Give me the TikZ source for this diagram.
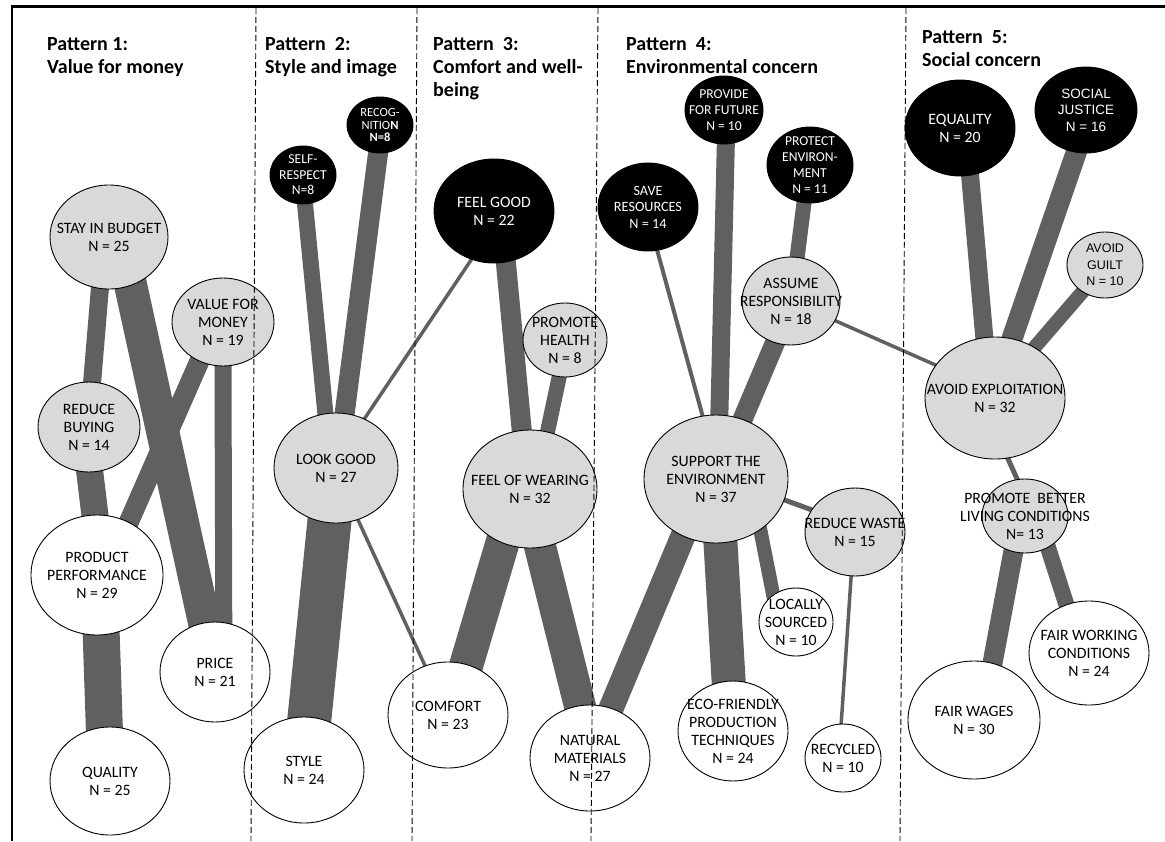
\documentclass[tikz,border=0pt]{standalone}
\usepackage{fontspec}
\setmainfont{Carlito}
\newfontfamily\arialfont{Liberation Sans}
\usetikzlibrary{shapes.geometric, backgrounds}
\definecolor{bandgrey}{HTML}{606060}
\definecolor{palegrey}{HTML}{D9D9D9}

\begin{document}
\begin{tikzpicture}[
  x=1pt, y=-1pt,
  bubble/.style={ellipse, draw=black, line width=0.9pt, inner sep=0pt},
  greybub/.style={bubble, fill=palegrey},
  whitebub/.style={bubble, fill=white},
  blackbub/.style={bubble, fill=black},
  txt/.style={font=\fontsize{15.8}{18}\selectfont, align=center, inner sep=0pt},
  wtxt/.style={txt, text=white},
  smalltxt/.style={font=\fontsize{14.2}{16.5}\selectfont},
  band/.style={draw=bandgrey, line width=#1, shorten <=-6pt, shorten >=-6pt},
  pattitle/.style={font=\fontsize{20}{23}\selectfont\bfseries, align=left, inner sep=0pt, anchor=base west},
  divider/.style={dash pattern=on 6pt off 3pt, line width=0.9pt},
]
\useasboundingbox (0,0) rectangle (1165,841);

% frame
\draw[line width=2.5pt] (11,6.5) -- (1165,6.5);
\draw[line width=1.5pt] (12,6.5) -- (12,841);

% titles (base = last line)
\node[pattitle] (t1) at (47,73) {Pattern 1:\\Value for money};
\node[pattitle] (t2) at (265,73) {Pattern~ 2:\\Style and image};
\node[pattitle] (t3) at (433,96) {Pattern~ 3:\\Comfort and well-\\being};
\node[pattitle] (t4) at (626,73) {Pattern~ 4:\\Environmental concern};
\node[pattitle] (t5) at (922,66) {Pattern~ 5:\\Social concern};

% pattern 1
\node[greybub, minimum width=118, minimum height=104, label={[txt]center:{STAY IN BUDGET\\N = 25}}] (stay) at (109,237) {};
\node[greybub, minimum width=102, minimum height=88, label={[txt]center:{VALUE FOR\\MONEY\\N = 19}}] (vfm) at (223,322) {};
\node[greybub, minimum width=102, minimum height=90, label={[txt]center:{REDUCE\\BUYING\\N = 14}}] (reduce) at (89,427) {};
\node[whitebub, minimum width=132, minimum height=120, label={[txt]center:{PRODUCT\\PERFORMANCE\\N = 29}}] (perf) at (97,575) {};
\node[whitebub, minimum width=110, minimum height=100, label={[txt]center:{PRICE\\N = 21}}] (price) at (215,672) {};
\node[whitebub, minimum width=120, minimum height=108, label={[txt]center:{QUALITY\\N = 25}}] (quality) at (110,781) {};

% pattern 2
\node[blackbub, minimum width=66, minimum height=58, label={[wtxt, font=\fontsize{13.6}{15.5}\selectfont]center:{SELF-\\RESPECT\\N=8}}] (selfresp) at (303,175) {};
\node[blackbub, minimum width=66, minimum height=56, label={[wtxt, font=\fontsize{12.5}{12.5}\selectfont]center:{RECOG-\\NITIO\textbf{N}\\\textbf{N=8}}}] (recog) at (380,125) {};
\node[greybub, minimum width=124, minimum height=110, label={[txt]center:{LOOK GOOD\\N = 27}}] (lookgood) at (336,468) {};
\node[whitebub, minimum width=120, minimum height=106, label={[txt]center:{STYLE\\N = 24}}] (style) at (304,770) {};

% pattern 3
\node[blackbub, minimum width=120, minimum height=104, label={[wtxt]center:{FEEL GOOD\\N = 22}}] (feelgood) at (494,211) {};
\node[greybub, minimum width=84, minimum height=74, label={[txt]center:{PROMOTE\\HEALTH\\N = 8}}] (health) at (565,340) {};
\node[greybub, minimum width=134, minimum height=118, label={[txt]center:{FEEL OF WEARING\\N = 32}}] (wearing) at (530,489) {};
\node[whitebub, minimum width=120, minimum height=106, label={[txt]center:{COMFORT\\N = 23}}] (comfort) at (448,715) {};
\node[whitebub, minimum width=120, minimum height=106, label={[txt]center:{NATURAL\\MATERIALS\\N = 27}}] (natural) at (590,758) {};

% pattern 4
\node[blackbub, minimum width=100, minimum height=88, label={[wtxt, smalltxt]center:{SAVE\\RESOURCES\\N = 14}}] (saveres) at (648,207) {};
\node[blackbub, minimum width=78, minimum height=68, label={[wtxt, font=\fontsize{13.6}{16}\selectfont]center:{PROVIDE\\FOR FUTURE\\N = 10}}] (future) at (724,110) {};
\node[blackbub, minimum width=86, minimum height=76, label={[wtxt, font=\fontsize{13.6}{16}\selectfont]center:{PROTECT\\ENVIRON-\\MENT\\N = 11}}] (protect) at (810,165) {};
\node[greybub, minimum width=98, minimum height=88, label={[txt]center:{ASSUME\\RESPONSIBILITY\\N = 18}}] (assume) at (791,301) {};
\node[greybub, minimum width=144, minimum height=128, label={[txt]center:{SUPPORT THE\\ENVIRONMENT\\N = 37}}] (support) at (716,479) {};
\node[greybub, minimum width=100, minimum height=88, label={[txt]center:{REDUCE WASTE\\N = 15}}] (waste) at (855,532) {};
\node[whitebub, minimum width=74, minimum height=68, label={[txt]center:{LOCALLY\\SOURCED\\N = 10}}] (local) at (796,622) {};
\node[whitebub, minimum width=110, minimum height=100, label={[txt]center:{ECO-FRIENDLY\\PRODUCTION\\TECHNIQUES\\N = 24}}] (eco) at (733,731) {};
\node[whitebub, minimum width=76, minimum height=68, label={[txt]center:{RECYCLED\\N = 10}}] (recycled) at (843,758) {};

% pattern 5
\node[blackbub, minimum width=110, minimum height=96, label={[wtxt]center:{EQUALITY\\N = 20}}] (equality) at (960,128) {};
\node[blackbub, minimum width=102, minimum height=86, label={[wtxt, font=\arialfont\fontsize{13.5}{16.5}\selectfont]center:{SOCIAL\\JUSTICE\\N = 16}}] (justice) at (1086,110) {};
\node[greybub, minimum width=76, minimum height=66, label={[txt, font=\arialfont\fontsize{12.5}{16.5}\selectfont]center:{AVOID\\GUILT\\N = 10}}] (guilt) at (1105,265) {};
\node[greybub, minimum width=140, minimum height=122, label={[txt]center:{AVOID EXPLOITATION\\N = 32}}] (exploit) at (995,398) {};
\node[greybub, minimum width=86, minimum height=74, label={[txt]center:{PROMOTE~ BETTER\\LIVING CONDITIONS\\N= 13}}] (living) at (1025,516) {};
\node[whitebub, minimum width=132, minimum height=118, label={[txt]center:{FAIR WAGES\\N = 30}}] (wages) at (974,720) {};
\node[whitebub, minimum width=120, minimum height=104, label={[txt]center:{FAIR WORKING\\CONDITIONS\\N = 24}}] (working) at (1089,653) {};

\begin{scope}[on background layer]
% pattern 1 links
\draw[band=18] (stay.260) -- (reduce.86);
\draw[band=27] (reduce.271) -- (perf.92);
\draw[band=33] (stay.294) -- (price.102);
\draw[band=17] (vfm.270) -- (price.80);
\draw[band=20] (vfm.239) -- (perf.59);
\draw[band=37] (perf.274) -- (quality.96);
% pattern 2 links
\draw[band=16] (selfresp.274) -- (lookgood.101);
\draw[band=20] (recog.266) -- (lookgood.81);
\draw[band=44] (lookgood.263) -- (style.84);
\draw[band=3.5] (lookgood.60) -- (feelgood.245);
\draw[band=3.5] (lookgood.293) -- (comfort.115);
% pattern 3 links
\draw[band=20] (feelgood.283) -- (wearing.98);
\draw[band=15] (health.261) -- (wearing.73);
\draw[band=34] (wearing.243) -- (comfort.70);
\draw[band=32] (wearing.280) -- (natural.101);
% pattern 4 links
\draw[band=25] (natural.67) -- (support.240);
\draw[band=4] (saveres.282) -- (support.102);
\draw[band=18] (future.273) -- (support.87);
\draw[band=15] (protect.261) -- (assume.82);
\draw[band=20] (assume.249) -- (support.66);
\draw[band=3.5] (assume.336) -- (exploit.151);
\draw[band=34] (support.274) -- (eco.95);
\draw[band=14] (support.311) -- (local.130);
\draw[band=5] (support.343) -- (waste.153);
\draw[band=3.5] (waste.265) -- (recycled.93);
% pattern 5 links
\draw[band=18] (equality.282) -- (exploit.100);
\draw[band=21] (justice.257) -- (exploit.74);
\draw[band=14] (guilt.230) -- (exploit.52);
\draw[band=5] (exploit.282) -- (living.102);
\draw[band=20] (living.252) -- (wages.72);
\draw[band=16] (living.306) -- (working.115);
\end{scope}

% dividers
\draw[divider] (256,8) -- (251,841);
\draw[divider] (417,8) -- (412,841);
\draw[divider] (598,8) -- (591,841);
\draw[divider] (906,8) -- (900,841);
\end{tikzpicture}
\end{document}
